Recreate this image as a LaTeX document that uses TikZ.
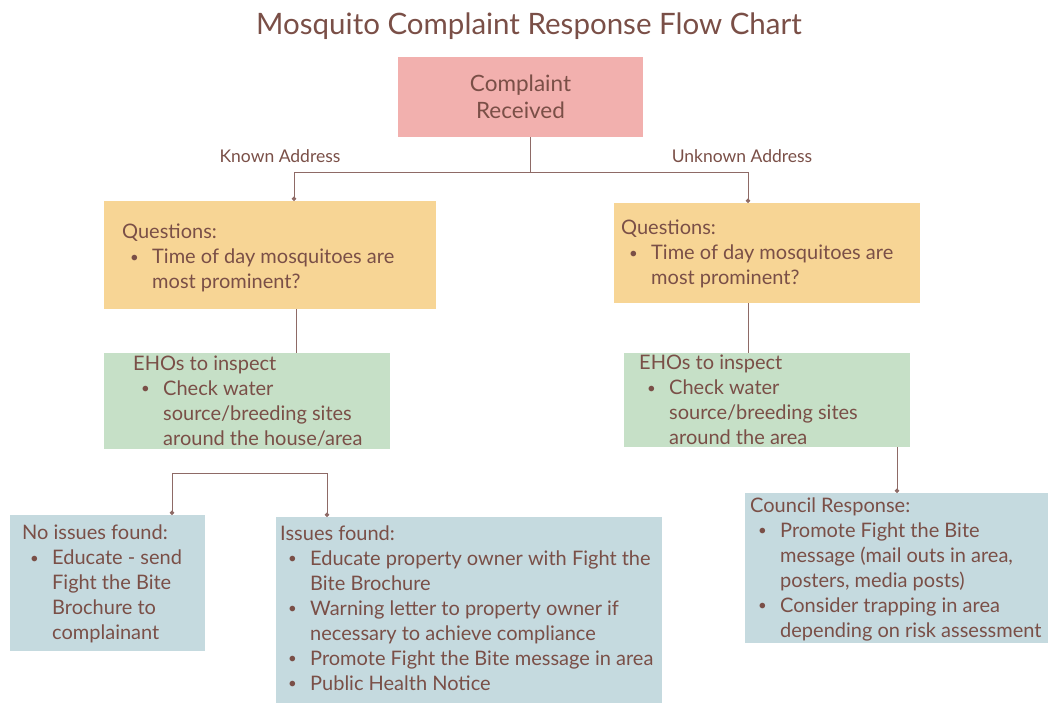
\documentclass[tikz,border=0pt]{standalone}
\usepackage{fontspec}
\setmainfont{Lato}
\usetikzlibrary{arrows.meta}
\definecolor{txt}{HTML}{7A4F47}
\definecolor{linec}{HTML}{8E6A66}
\definecolor{pinkc}{HTML}{F2B0AE}
\definecolor{yelc}{HTML}{F7D595}
\definecolor{grnc}{HTML}{C6E0C7}
\definecolor{bluc}{HTML}{C5DADF}
\newcommand\bl{\makebox[30pt][l]{\hspace{8pt}\raisebox{1.5pt}{\scalebox{0.75}{•}}}}
\newcommand\ind{\hspace*{30pt}}
\begin{document}
\begin{tikzpicture}[x=1pt,y=-1pt,
  box/.style={anchor=north west, inner sep=0pt, outer sep=0pt},
  lab/.style={text=txt, align=left, anchor=west, inner sep=0pt, font=\fontsize{20}{25}\selectfont},
  con/.style={draw=linec, line width=1pt},
  dotend/.style={-{Circle[length=4.5pt]}},
  dotboth/.style={{Circle[length=4.5pt]}-{Circle[length=4.5pt]}}]
\useasboundingbox (0,0) rectangle (1049,704);

\node[text=txt, font=\fontsize{29.5}{31}\selectfont] (title) at (529,26) {Mosquito Complaint Response Flow Chart};

% boxes
\node[box, fill=pinkc, minimum width=245pt, minimum height=80pt] (cr) at (398,57) {};
\node[text=txt, align=center, font=\fontsize{22.5}{27}\selectfont] (crt) at (cr.center) {Complaint\\Received};

\node[box, fill=yelc, minimum width=332pt, minimum height=108pt] (q1) at (104,201) {};
\node[box, fill=yelc, minimum width=306pt, minimum height=100pt] (q2) at (614,203) {};
\node[box, fill=grnc, minimum width=286pt, minimum height=96pt] (e1) at (104,353) {};
\node[box, fill=grnc, minimum width=286pt, minimum height=94pt] (e2) at (624,353) {};
\node[box, fill=bluc, minimum width=195pt, minimum height=136pt] (ni) at (10,515) {};
\node[box, fill=bluc, minimum width=386pt, minimum height=186pt] (is) at (276,517) {};
\node[box, fill=bluc, minimum width=303pt, minimum height=150pt] (co) at (745,493) {};

% texts
\node[lab] (q1t) at ([xshift=18pt,yshift=-3pt]q1.west) {Questions:\\\bl Time of day mosquitoes are\\\ind most prominent?};
\node[lab] (q2t) at ([xshift=7pt,yshift=-1pt]q2.west) {Questions:\\\bl Time of day mosquitoes are\\\ind most prominent?};
\node[lab] (e1t) at ([xshift=29pt]e1.west) {EHOs to inspect\\\bl Check water\\\ind source/breeding sites\\\ind around the house/area};
\node[lab] (e2t) at ([xshift=15pt]e2.west) {EHOs to inspect\\\bl Check water\\\ind source/breeding sites\\\ind around the area};
\node[lab] (nit) at ([xshift=12pt,yshift=-1pt]ni.west) {No issues found:\\\bl Educate - send\\\ind Fight the Bite\\\ind Brochure to\\\ind complainant};
\node[lab] (ist) at ([xshift=4pt,yshift=2pt]is.west) {Issues found:\\\bl Educate property owner with Fight the\\\ind Bite Brochure\\\bl Warning letter to property owner if\\\ind necessary to achieve compliance\\\bl Promote Fight the Bite message in area\\\bl Public Health Notice};
\node[lab] (cot) at ([xshift=5pt,yshift=-1pt]co.west) {Council Response:\\\bl Promote Fight the Bite\\\ind message (mail outs in area,\\\ind posters, media posts)\\\bl Consider trapping in area\\\ind depending on risk assessment};

% branch labels
\node[text=txt, font=\fontsize{17.5}{19}\selectfont] (known) at (280,156) {Known Address};
\node[text=txt, font=\fontsize{17.5}{19}\selectfont] (unknown) at (742,156) {Unknown Address};

% connectors
\coordinate (j) at (530,172);
\coordinate (xq1) at (294,0);
\coordinate (xq2) at (748,0);
\coordinate (xe1) at (296,0);
\coordinate (xco) at (897,0);
\coordinate (xni) at (172,0);
\coordinate (xis) at (327,0);
\coordinate (ybr) at (0,473);
\draw[con] (cr.south -| j) -- (j);
\draw[con, dotend] (j) -| (q1.north -| xq1);
\draw[con, dotend] (j) -| (q2.north -| xq2);
\draw[con] (q1.south -| xe1) -- (e1.north -| xe1);
\draw[con] (q2.south -| xq2) -- (e2.north -| xq2);
\draw[con, dotend] (e2.south -| xco) -- (co.north -| xco);
\draw[con, dotboth] (ni.north -| xni) -- (xni |- ybr) -- (xis |- ybr) -- (is.north -| xis);
\end{tikzpicture}
\end{document}
